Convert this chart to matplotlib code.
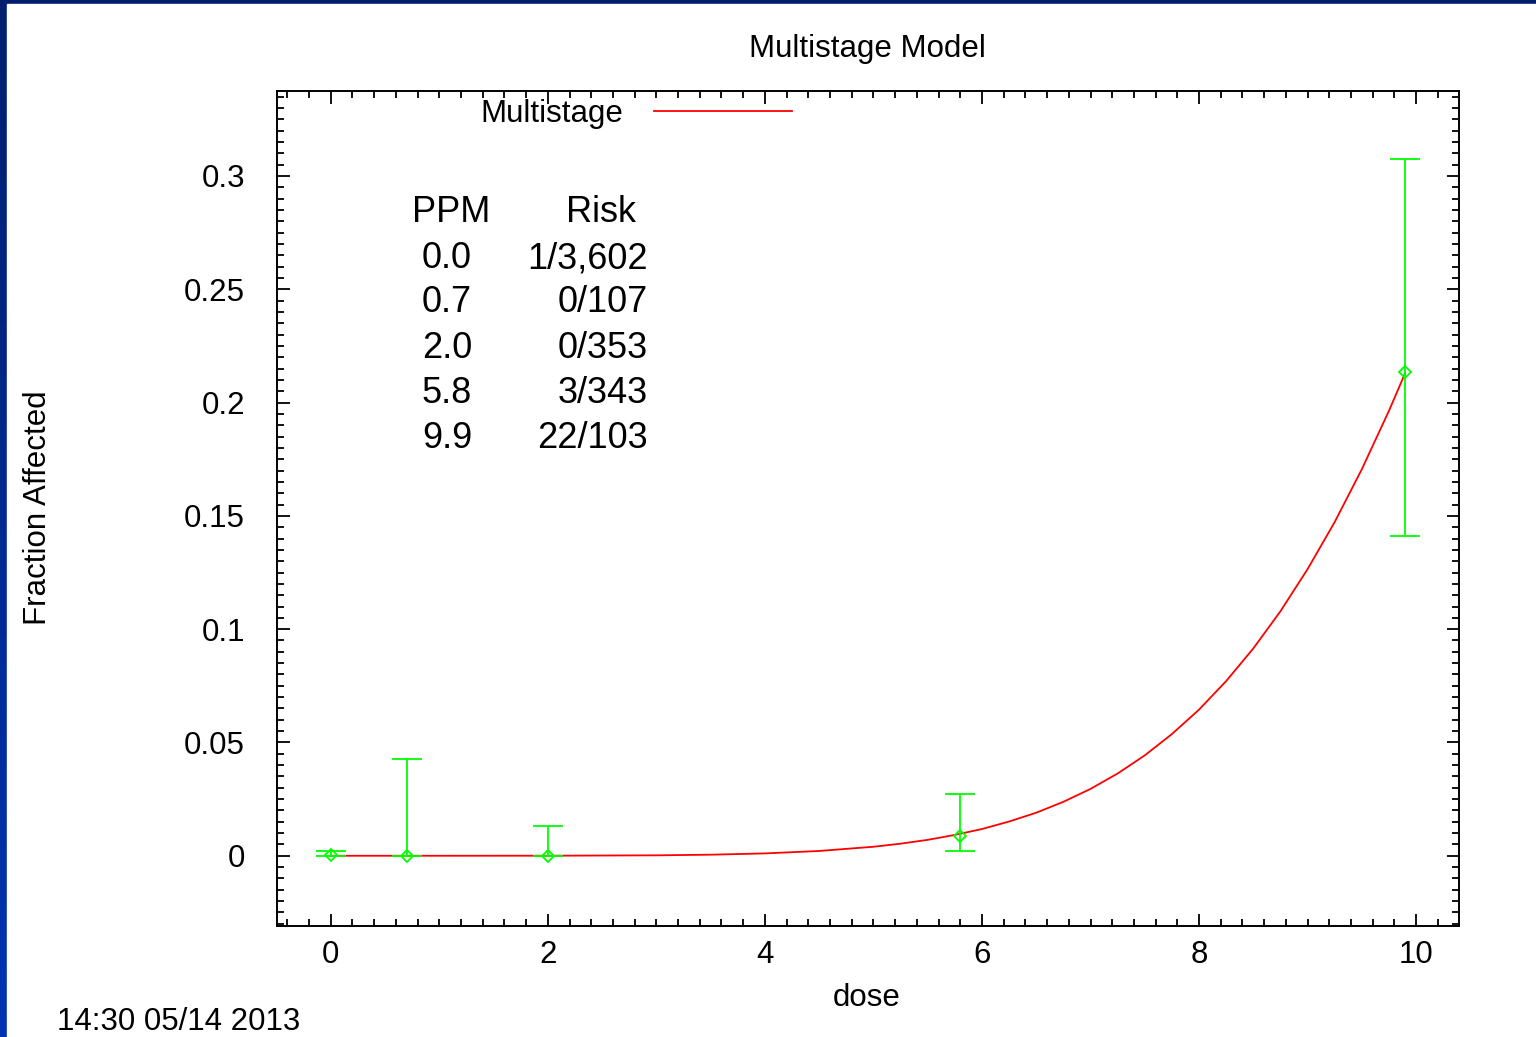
import matplotlib.pyplot as plt
import numpy as np
from matplotlib.patches import Rectangle
from matplotlib.ticker import MultipleLocator

# observed data
dose = [0.0, 0.7, 2.0, 5.8, 9.9]
frac = [0.00028, 0.0, 0.0, 0.0085, 0.2136]
err_lo = [0.0, 0.0, 0.0, 0.0022, 0.1412]
err_hi = [0.0019, 0.0428, 0.0132, 0.0274, 0.3073]

# fitted multistage curve
curve_dose = [0.0, 1.0, 2.0, 3.0, 3.5, 4.0, 4.5, 5.0, 5.25, 5.5, 5.75, 6.0, 6.25,
              6.5, 6.75, 7.0, 7.25, 7.5, 7.75, 8.0, 8.25, 8.5, 8.75, 9.0, 9.25,
              9.5, 9.75, 9.9]
curve_frac = [0.0, 0.0, 0.00002, 0.00019, 0.00047, 0.00104, 0.00211, 0.00397,
              0.00533, 0.00702, 0.0092, 0.0118, 0.0151, 0.0190, 0.0238, 0.0295,
              0.0363, 0.0443, 0.0537, 0.0645, 0.0771, 0.0915, 0.1079, 0.1265,
              0.1473, 0.1706, 0.1964, 0.2131]

table_ppm = ["0.0", "0.7", "2.0", "5.8", "9.9"]
table_risk = ["1/3,602", "0/107", "0/353", "3/343", "22/103"]

W, H = 1536, 1037
plt.rcParams["font.family"] = ["Liberation Sans", "DejaVu Sans"]
FS = 22.5

fig = plt.figure(figsize=(W / 100, H / 100), dpi=100)

# blue slide frame on the top and left
bg = fig.add_axes([0, 0, 1, 1], zorder=-10)
grad = np.linspace(0, 1, 256).reshape(-1, 1)
top_col = np.array([0.0, 0.12, 0.43])
bot_col = np.array([0.0, 0.20, 0.70])
img = top_col + (bot_col - top_col) * grad[:, :, None]
bg.imshow(img, aspect="auto", extent=[0, 1, 0, 1], origin="upper")
bg.add_patch(Rectangle((7 / W, 0), 1, 1 - 4 / H, color="white", transform=bg.transAxes))
bg.set_xlim(0, 1)
bg.set_ylim(0, 1)
bg.axis("off")

ax = fig.add_axes([277 / W, 1 - 926 / H, (1459 - 277) / W, (926 - 91) / H])

ax.plot(curve_dose, curve_frac, color="#ff0000", lw=1.3, label="Multistage", zorder=2)

y = np.array(frac)
yerr = [y - np.array(err_lo), np.array(err_hi) - y]
ax.errorbar(dose, frac, yerr=yerr, fmt="D", mfc="none", mec="#00ff00", ms=6,
            mew=1.3, ecolor="#00ff00", elinewidth=1.3, capsize=11, capthick=1.3,
            zorder=3)

ax.set_xlim(-0.495, 10.395)
ax.set_ylim(-0.031, 0.3375)
ax.xaxis.set_major_locator(MultipleLocator(2))
ax.xaxis.set_minor_locator(MultipleLocator(0.2))
ax.yaxis.set_major_locator(MultipleLocator(0.05))
ax.yaxis.set_minor_locator(MultipleLocator(0.005))
ax.set_yticks([0, 0.05, 0.1, 0.15, 0.2, 0.25, 0.3])
ax.set_yticklabels(["0", "0.05", "0.1", "0.15", "0.2", "0.25", "0.3"])

ax.tick_params(which="both", direction="in", top=True, right=True,
               labelsize=FS, width=1.3, colors="black")
ax.tick_params(axis="y", which="major", length=9, pad=23)
ax.tick_params(axis="x", which="major", length=9, pad=10)
ax.tick_params(which="minor", length=5)
for s in ax.spines.values():
    s.set_linewidth(1.4)

ax.set_xlabel("dose", fontsize=FS)
ax.xaxis.set_label_coords((867 - 277) / (1459 - 277), (926 - 998) / (926 - 91))
ax.xaxis.label.set_va("center")
ax.set_ylabel("Fraction Affected", fontsize=FS)
ax.yaxis.set_label_coords((38 - 277) / (1459 - 277), (926 - 508) / (926 - 91))
ax.yaxis.label.set_va("center")

ax.legend(loc="center", bbox_to_anchor=((636 - 277) / 1182, (926 - 114) / 835),
          frameon=False, markerfirst=False, fontsize=FS, handlelength=4.4,
          handletextpad=1.0, borderpad=0, borderaxespad=0)

fig.text(867 / W, 1 - 49 / H, "Multistage Model", fontsize=FS, ha="center", va="center")
fig.text(57 / W, 1 - 1022 / H, "14:30 05/14 2013", fontsize=FS, ha="left", va="center")

# data table
TS = 26
rows_y = [259, 303, 348, 393, 438]
fig.text(451 / W, 1 - 213 / H, "PPM", fontsize=TS, ha="center", va="center")
fig.text(601 / W, 1 - 213 / H, "Risk", fontsize=TS, ha="center", va="center")
for ry, p, r in zip(rows_y, table_ppm, table_risk):
    fig.text(447 / W, 1 - ry / H, p, fontsize=TS, ha="center", va="center")
    fig.text(648 / W, 1 - ry / H, r, fontsize=TS, ha="right", va="center")

fig.savefig("out.png", dpi=100)
